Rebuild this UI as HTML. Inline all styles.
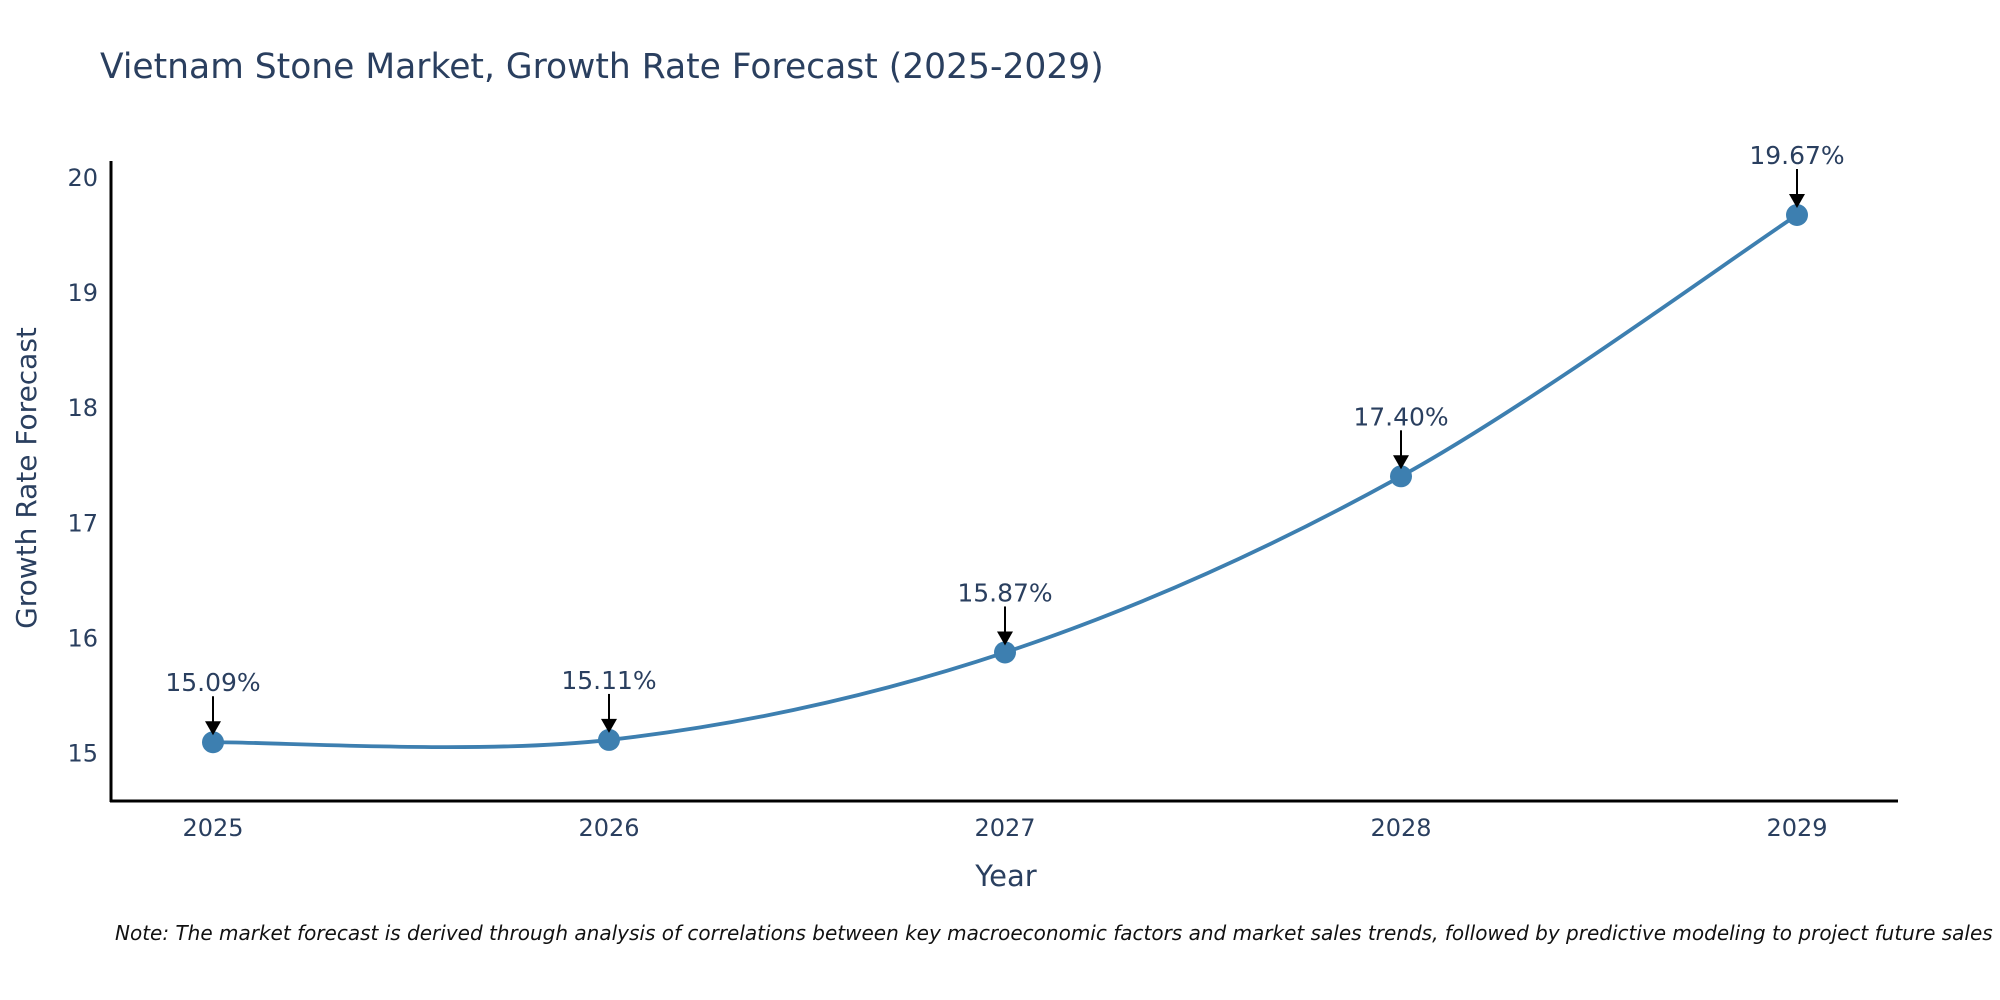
<!DOCTYPE html>
<html><head><meta charset="utf-8"><style>
html,body{margin:0;padding:0;background:#fff;}
svg{display:block;font-family:"DejaVu Sans","Liberation Sans",sans-serif;}
</style></head><body>
<svg id="chart" width="2000" height="1000" viewBox="0 0 2000 1000">
<text x="100" y="78" font-size="34.5" fill="#2a3f5f">Vietnam Stone Market, Growth Rate Forecast (2025-2029)</text>
<g id="yticks"></g>
<g id="xticks"></g>
<path id="curve" fill="none" stroke="#3d7fb0" stroke-width="3.8"/>
<g id="marks"></g>
<g id="annots"></g>
<line x1="111" y1="161" x2="111" y2="802" stroke="#000" stroke-width="3"/>
<line x1="110" y1="801" x2="1898" y2="801" stroke="#000" stroke-width="3"/>
<text x="1006" y="886" font-size="29" fill="#2a3f5f" text-anchor="middle">Year</text>
<text transform="translate(36,478) rotate(-90)" font-size="28" fill="#2a3f5f" text-anchor="middle">Growth Rate Forecast</text>
<text x="115" y="940" font-size="20" font-style="italic" fill="#111">Note: The market forecast is derived through analysis of correlations between key macroeconomic factors and market sales trends, followed by predictive modeling to project future sales</text>
</svg>
<script>
const years = ["2025","2026","2027","2028","2029"];
const values = [15.09, 15.11, 15.87, 17.40, 19.67];
const yTicks = [15, 16, 17, 18, 19, 20];
const NS = "http://www.w3.org/2000/svg";
function xPos(i){ return 213 + i * 396; }
function yPos(v){ return 752.6 - (v - 15) * 115.12; }
function mk(tag, attrs, parent){ const e=document.createElementNS(NS,tag); for(const k in attrs) e.setAttribute(k,attrs[k]); parent.appendChild(e); return e; }
const yg=document.getElementById('yticks');
yTicks.forEach(t=>{
  const e=mk('text',{x:98,y:yPos(t)+9,'font-size':24,fill:'#2a3f5f','text-anchor':'end'},yg);
  
  
  e.textContent=t;
});
const xg=document.getElementById('xticks');
years.forEach((y,i)=>{
  const e=mk('text',{x:xPos(i),y:836,'font-size':24,fill:'#2a3f5f','text-anchor':'middle'},xg);
  
  
  e.textContent=y;
});
const pts=values.map((v,i)=>[xPos(i),yPos(v)]);
let d=`M${pts[0][0]},${pts[0][1]}`;
const tn=0.5;
for(let i=0;i<pts.length-1;i++){
  const p0=pts[Math.max(0,i-1)],p1=pts[i],p2=pts[i+1],p3=pts[Math.min(pts.length-1,i+2)];
  const c1=[p1[0]+(p2[0]-p0[0])*tn/3,p1[1]+(p2[1]-p0[1])*tn/3];
  const c2=[p2[0]-(p3[0]-p1[0])*tn/3,p2[1]-(p3[1]-p1[1])*tn/3];
  d+=` C${c1[0]},${c1[1]} ${c2[0]},${c2[1]} ${p2[0]},${p2[1]}`;
}
document.getElementById('curve').setAttribute('d',d);
const mg=document.getElementById('marks'), ag=document.getElementById('annots');
values.forEach((v,i)=>{
  const x=xPos(i), y=yPos(v);
  const c=mk('circle',{cx:x,cy:y,r:11,fill:'#3d7fb0'},mg);
  
  
  const l=mk('line',{x1:x,y1:y-46,x2:x,y2:y-20,stroke:'#000','stroke-width':2},ag);
  
  
  const h=mk('polygon',{points:`${x-8},${y-21} ${x+8},${y-21} ${x},${y-7}`,fill:'#000'},ag);
  
  
  const t=mk('text',{x:x,y:y-51,'font-size':25,fill:'#2a3f5f','text-anchor':'middle'},ag);
  
  
  t.textContent=v.toFixed(2)+'%';
});
</script>
</body></html>
